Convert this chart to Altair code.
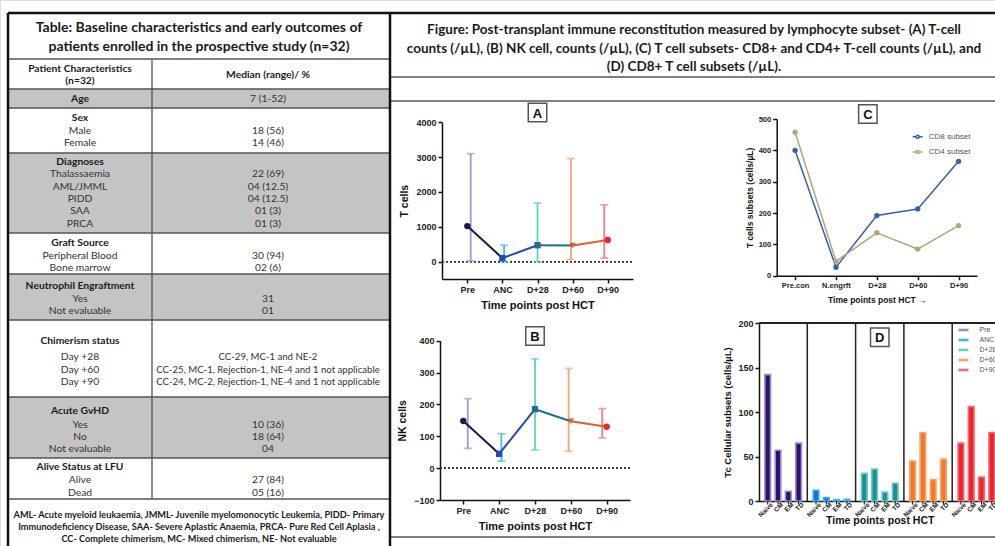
import altair as alt
import pandas as pd

W, H = 995, 546
TF = "Lato"             # table / caption font (Calibri-like)
CF = "Liberation Sans"  # chart font (Arial-like)

# ======================= DATA =======================
tbl_title = ["Table: Baseline characteristics and early outcomes of",
             "patients enrolled in the prospective study (n=32)"]
tbl_col_head_left = ["Patient Characteristics", "(n=32)"]
tbl_col_head_right = "Median (range)/ %"
tbl_heads = ["Age", "Sex", "Diagnoses", "Graft Source", "Neutrophil Engraftment",
             "Chimerism status", "Acute GvHD", "Alive Status at LFU"]
tbl_items = [[], ["Male", "Female"],
             ["Thalassaemia", "AML/JMML", "PIDD", "SAA", "PRCA"],
             ["Peripheral Blood", "Bone marrow"],
             ["Yes", "Not evaluable"],
             ["Day +28", "Day +60", "Day +90"],
             ["Yes", "No", "Not evaluable"],
             ["Alive", "Dead"]]
tbl_values = [["7 (1-52)"], ["18 (56)", "14 (46)"],
              ["22 (69)", "04 (12.5)", "04 (12.5)", "01 (3)", "01 (3)"],
              ["30 (94)", "02 (6)"],
              ["31", "01"],
              ["CC-29, MC-1 and NE-2",
               "CC-25, MC-1, Rejection-1,  NE-4 and 1 not applicable",
               "CC-24, MC-2, Rejection-1,  NE-4 and 1 not applicable"],
              ["10 (36)", "18 (64)", "04"],
              ["27 (84)", "05 (16)"]]
tbl_shaded = [True, False, True, False, True, False, True, False]
tbl_foot = ["AML- Acute myeloid leukaemia, JMML- Juvenile myelomonocytic Leukemia, PIDD- Primary",
            "Immunodeficiency Disease, SAA- Severe Aplastic Anaemia, PRCA- Pure Red Cell Aplasia ,",
            "CC- Complete chimerism, MC- Mixed chimerism, NE- Not evaluable"]
fig_title = ["Figure: Post-transplant immune reconstitution measured by lymphocyte subset- (A) T-cell",
             "counts (/\u00b5L), (B) NK cell, counts (/\u00b5L), (C) T cell subsets- CD8+ and CD4+ T-cell counts (/\u00b5L), and",
             "(D) CD8+ T cell subsets (/\u00b5L)."]

times = ["Pre", "ANC", "D+28", "D+60", "D+90"]
t_cells = [1020, 100, 470, 460, 620]
t_low = [20, 0, 0, 60, 100]
t_high = [3100, 470, 1680, 2960, 1630]
nk_cells = [148, 45, 185, 147, 130]
nk_low = [62, 22, 57, 53, 95]
nk_high = [218, 108, 343, 313, 187]

c_times = ["Pre.con", "N.engrft", "D+28", "D+60", "D+90"]
cd8 = [400, 27, 192, 213, 365]
cd4 = [458, 46, 137, 85, 160]
c_series = ["CD8 subset", "CD4 subset"]

subsets = ["Naive", "CM", "EM", "TD"]
d_pre = [142, 57, 11, 65]
d_anc = [12, 4, 1.5, 2]
d_d28 = [31, 36, 10, 20]
d_d60 = [45, 77, 24, 47]
d_d90 = [65, 106, 27, 77]

# ======================= STYLE =======================
point_colors = ["#1d1650", "#2449b8", "#1f6f8c", "#e0602a", "#e62828"]
whisker_colors = ["#a597d6", "#3fc0e6", "#5fcfcf", "#f7a57a", "#f07a8a"]
point_shapes = ["circle", "square", "square", "triangle-down", "circle"]
c_colors = ["#3560b0", "#b4a57c"]
bar_fills = ["#2a1463", "#1f6fd0", "#1e8e8e", "#f07a2a", "#f02424"]
bar_strokes = ["#9d8ad6", "#36b7ee", "#6ccccc", "#f6a672", "#f46a7a"]
GRAY = "#c4c4c4"

# ======================= LAYOUT (pixels) =======================
TL, TR, TOP = 8, 390, 13
COL_DIV = 152
TCX = 199          # table centre
LCX, VCX = 80, 268  # column centres
FCX = 694          # figure caption centre
TT_Y = [28, 47]
FT_Y = [30, 48.5, 67]
HEAD_TOP, BODY_TOP = 59, 89
HDR_L_Y = [68.5, 81]
HDR_R_Y = 75
row_h = [19, 45, 80, 41, 46, 77, 61, 41]
hdr_off = [10, 10, 9, 10, 12, 21, 14, 9]
item_gap = [0, 12.5, 12.4, 12.7, 12.8, 16.3, 13.8, 13.2]
PITCH = 12.3
FOOT_Y = [515, 527, 538.5]
FIG_LINES = [77, 101, 537]

ident_x = alt.Scale(domain=[0, W], range=[0, W], nice=False, zero=False)
ident_y = alt.Scale(domain=[0, H], range=[0, H], nice=False, zero=False)

# ---------- table ----------
bold_rows, reg_rows = [], []
for k, line in enumerate(tbl_title):
    bold_rows.append(dict(x=TCX, y=TT_Y[k], t=line, fs=14))
for k, line in enumerate(fig_title):
    bold_rows.append(dict(x=FCX, y=FT_Y[k], t=line, fs=13.5))
for k, line in enumerate(tbl_col_head_left):
    bold_rows.append(dict(x=LCX, y=HDR_L_Y[k], t=line, fs=10.3))
bold_rows.append(dict(x=VCX, y=HDR_R_Y, t=tbl_col_head_right, fs=10.3))
for k, line in enumerate(tbl_foot):
    bold_rows.append(dict(x=TCX, y=FOOT_Y[k], t=line, fs=9.2))

rects = []
hlines = [HEAD_TOP, BODY_TOP]
top = BODY_TOP
for i, head in enumerate(tbl_heads):
    hy = top + hdr_off[i]
    bold_rows.append(dict(x=LCX, y=hy, t=head, fs=10.3))
    vfs = 9.6 if max(len(v) for v in tbl_values[i]) > 30 else 10.3
    if not tbl_items[i]:
        reg_rows.append(dict(x=VCX, y=hy, t=tbl_values[i][0], fs=vfs))
    else:
        for k, (it, val) in enumerate(zip(tbl_items[i], tbl_values[i])):
            yy = hy + item_gap[i] + k * PITCH
            reg_rows.append(dict(x=LCX, y=yy, t=it, fs=10.3))
            reg_rows.append(dict(x=VCX, y=yy, t=val, fs=vfs))
    if tbl_shaded[i]:
        rects.append(dict(x=TL, x2=TR, y=top, y2=top + row_h[i]))
    top += row_h[i]
    hlines.append(top)
TABLE_END = top

segs = []
for yy in hlines:
    segs.append(dict(x=TL, x2=TR, y=yy, y2=yy, w=1.3, c="#555555"))
segs.append(dict(x=COL_DIV, x2=COL_DIV, y=HEAD_TOP, y2=TABLE_END, w=1.3, c="#555555"))
for yy in FIG_LINES:
    segs.append(dict(x=TR, x2=W, y=yy, y2=yy, w=1.5, c="#555555"))
segs.append(dict(x=TL, x2=W, y=TOP, y2=TOP, w=2.5, c="#111111"))
segs.append(dict(x=TL, x2=TL, y=TOP, y2=H, w=2.5, c="#111111"))
segs.append(dict(x=TR, x2=TR, y=TOP, y2=H, w=2.5, c="#111111"))

layers = []
layers.append(alt.Chart(pd.DataFrame(rects)).mark_rect(color=GRAY).encode(
    x=alt.X("x:Q", scale=ident_x, axis=None), x2="x2:Q",
    y=alt.Y("y:Q", scale=ident_y, axis=None), y2="y2:Q"))
layers.append(alt.Chart(pd.DataFrame(segs)).mark_rule().encode(
    x=alt.X("x:Q", scale=ident_x, axis=None), x2="x2:Q",
    y=alt.Y("y:Q", scale=ident_y, axis=None), y2="y2:Q",
    strokeWidth=alt.StrokeWidth("w:Q", scale=None),
    color=alt.Color("c:N", scale=None)))
layers.append(alt.Chart(pd.DataFrame(bold_rows)).mark_text(
    font=TF, fontWeight="bold", color="#1a1a1a", baseline="middle", align="center").encode(
    x=alt.X("x:Q", scale=ident_x, axis=None), y=alt.Y("y:Q", scale=ident_y, axis=None),
    text="t:N", size=alt.Size("fs:Q", scale=None)))
layers.append(alt.Chart(pd.DataFrame(reg_rows)).mark_text(
    font=TF, color="#333333", baseline="middle", align="center").encode(
    x=alt.X("x:Q", scale=ident_x, axis=None), y=alt.Y("y:Q", scale=ident_y, axis=None),
    text="t:N", size=alt.Size("fs:Q", scale=None)))

# ======================= AXES =======================
def x_axis(title, ypos, lab=9, tit=11, pad=4, **kw):
    return alt.Axis(orient="bottom", offset=ypos - H, title=title, labelFont=CF,
                    labelFontWeight="bold", labelFontSize=lab, labelColor="#222",
                    labelAngle=0, labelPadding=2, domainColor="#111", domainWidth=1.5,
                    tickColor="#111", tickWidth=1.5, tickSize=4, titleFont=CF,
                    titleFontWeight="bold", titleFontSize=tit, titleColor="#111",
                    titlePadding=pad, grid=False, **kw)

def y_axis(title, xpos, values, lab=9, tit=10, pad=5):
    return alt.Axis(orient="left", offset=-xpos, title=title, values=values, format="d",
                    labelFont=CF, labelFontWeight="bold", labelFontSize=lab,
                    labelColor="#222", labelPadding=2, domainColor="#111", domainWidth=1.5,
                    tickColor="#111", tickWidth=1.5, tickSize=4, titleFont=CF,
                    titleFontWeight="bold", titleFontSize=tit, titleColor="#111",
                    titlePadding=pad, grid=False)

def box_label(letter, xval, xscale, yval, yscale, xoff=0):
    df = pd.DataFrame({"t": [letter]})
    xenc = alt.XDatum(xval, scale=xscale, axis=None)
    yenc = alt.YDatum(yval, scale=yscale, axis=None)
    b = alt.Chart(df).mark_point(shape="square", size=340, filled=True, fill="white",
                                 stroke="#555", strokeWidth=1.5, opacity=1,
                                 xOffset=xoff).encode(x=xenc, y=yenc)
    t = alt.Chart(df).mark_text(font=CF, fontWeight="bold", fontSize=13, color="#111",
                                xOffset=xoff, baseline="middle", dy=1).encode(
        x=xenc, y=yenc, text="t:N")
    return [b, t]

# ======================= PANELS A & B =======================
def line_panel(vals, lows, highs, xr, pad, yd, yr, ticks, ytitle, letter, lab_y):
    df = pd.DataFrame(dict(time=times, val=vals, lo=lows, hi=highs,
                           pc=point_colors, wc=whisker_colors))
    seg = []
    for i in range(len(times) - 1):
        for j in (i, i + 1):
            seg.append(dict(time=times[j], val=vals[j], s=i, c=point_colors[i]))
    seg = pd.DataFrame(seg)
    xs = alt.Scale(domain=times, range=xr, padding=pad)
    ys = alt.Scale(domain=yd, range=yr, nice=False, zero=False)
    xn = alt.X("time:N", scale=xs, sort=times, axis=None)
    out = []
    # axes carrier (invisible points)
    out.append(alt.Chart(df).mark_point(opacity=0).encode(
        x=alt.X("time:N", scale=xs, sort=times,
                axis=x_axis("Time points post HCT", yr[0], lab=9, tit=11, pad=5)),
        y=alt.Y("val:Q", scale=ys, axis=y_axis(ytitle, xr[0], ticks, lab=9, tit=10.5, pad=6))))
    out.append(alt.Chart(df).mark_rule(strokeDash=[2, 2], color="#333", strokeWidth=1.2).encode(
        y=alt.YDatum(0, scale=ys, axis=None), x=alt.value(xr[0]), x2=alt.value(xr[1])))
    out.append(alt.Chart(df).mark_rule(strokeWidth=1.8).encode(
        x=xn, y=alt.Y("lo:Q", scale=ys, axis=None), y2="hi:Q", color=alt.Color("wc:N", scale=None)))
    for f in ("hi", "lo"):
        out.append(alt.Chart(df).mark_tick(orient="horizontal", size=8, thickness=1.8).encode(
            x=xn, y=alt.Y(f + ":Q", scale=ys, axis=None), color=alt.Color("wc:N", scale=None)))
    out.append(alt.Chart(seg).mark_line(strokeWidth=2).encode(
        x=xn, y=alt.Y("val:Q", scale=ys, axis=None), detail="s:N",
        color=alt.Color("c:N", scale=None)))
    out.append(alt.Chart(df).mark_point(filled=True, size=40, opacity=1).encode(
        x=xn, y=alt.Y("val:Q", scale=ys, axis=None), color=alt.Color("pc:N", scale=None),
        shape=alt.Shape("time:N", scale=alt.Scale(domain=times, range=point_shapes), legend=None)))
    out += box_label(letter, "D+28", xs, lab_y, ys)
    return out

layers += line_panel(t_cells, t_low, t_high, [442, 633], 0.72, [-500, 4000], [279, 122.3],
                     [0, 1000, 2000, 3000, 4000], "T cells", "A", 4281)
layers += line_panel(nk_cells, nk_low, nk_high, [440, 630], 0.65, [-100, 400], [500, 340.7],
                     [-100, 0, 100, 200, 300, 400], "NK cells", "B", 415)

# ======================= PANEL C =======================
dfc = pd.DataFrame(dict(time=c_times * 2, val=cd8 + cd4,
                        series=[c_series[0]] * 5 + [c_series[1]] * 5))
xsc = alt.Scale(domain=c_times, range=[776.7, 977], padding=0.45)
ysc = alt.Scale(domain=[0, 500], range=[275.7, 119], nice=False, zero=False)
csc = alt.Scale(domain=c_series, range=c_colors)
LINE_DOT = "M-1,0H-0.32M0.32,0H1M0.3,0A0.3,0.3,0,1,1,-0.3,0A0.3,0.3,0,1,1,0.3,0"
layers.append(alt.Chart(dfc).mark_line(strokeWidth=1.5).encode(
    x=alt.X("time:N", scale=xsc, sort=c_times,
            axis=x_axis("Time points post HCT \u2192", 275.7, lab=7.5, tit=8.5, pad=6)),
    y=alt.Y("val:Q", scale=ysc,
            axis=y_axis("T cells subsets (cells/\u00b5L)", 776.7, [0, 100, 200, 300, 400, 500],
                        lab=7.5, tit=8.5, pad=4)),
    color=alt.Color("series:N", scale=csc, sort=c_series,
                    legend=alt.Legend(orient="none", legendX=911.7, legendY=130.7, title=None,
                                      symbolType=LINE_DOT, symbolSize=100,
                                      symbolStrokeWidth=1.6, labelFont=CF, labelFontSize=8,
                                      labelColor="#555", rowPadding=4.3, padding=0,
                                      labelOffset=5)),
    detail="series:N"))
layers.append(alt.Chart(dfc).mark_point(filled=True, size=28, opacity=1).encode(
    x=alt.X("time:N", scale=xsc, sort=c_times, axis=None),
    y=alt.Y("val:Q", scale=ysc, axis=None),
    color=alt.Color("series:N", scale=csc, legend=None)))
layers += box_label("C", "D+28", xsc, 516, ysc, xoff=-9)

# ======================= PANEL D =======================
rows = []
for g, vals in zip(times, [d_pre, d_anc, d_d28, d_d60, d_d90]):
    for s, v in zip(subsets, vals):
        rows.append(dict(group=g, subset=s, val=v))
dfd = pd.DataFrame(rows)
D_X0, D_Y0 = 759, 501
xsd = alt.Scale(domain=times, range=[D_X0, D_X0 + 5 * 48.3], paddingInner=0, paddingOuter=0)
xod = alt.Scale(domain=subsets, paddingInner=0.45, paddingOuter=0.57)
ysd = alt.Scale(domain=[0, 200], range=[D_Y0, 323], nice=False, zero=False)
xnd = alt.X("group:N", scale=xsd, sort=times, axis=None)
xo = alt.XOffset("subset:N", scale=xod, sort=subsets)
layers.append(alt.Chart(dfd).mark_bar(strokeWidth=1.6).encode(
    x=alt.X("group:N", scale=xsd, sort=times,
            axis=x_axis("Time points post HCT", D_Y0, lab=7, tit=10.5, pad=14,
                        labels=False, ticks=False)),
    xOffset=xo,
    y=alt.Y("val:Q", scale=ysd,
            axis=y_axis("Tc Cellular subsets (cells/\u00b5L)", D_X0, [0, 50, 100, 150, 200],
                        lab=9, tit=9.5, pad=5)),
    fill=alt.Fill("group:N", scale=alt.Scale(domain=times, range=bar_fills), legend=None),
    stroke=alt.Stroke("group:N", scale=alt.Scale(domain=times, range=bar_strokes), legend=None)))
# legend carrier: zero-length rules coloured like the bar outlines
layers.append(alt.Chart(pd.DataFrame({"group": times})).mark_rule(strokeWidth=0).encode(
    x=alt.X("group:N", scale=xsd, sort=times, axis=None),
    y=alt.YDatum(0, scale=ysd, axis=None), y2=alt.Y2Datum(0),
    color=alt.Color("group:N", scale=alt.Scale(domain=times, range=bar_strokes), sort=times,
                    legend=alt.Legend(orient="none", legendX=959.5, legendY=326, title=None,
                                      symbolType="M-2,0H2", symbolSize=25,
                                      symbolStrokeWidth=2.6, labelFont=CF, labelFontSize=7,
                                      labelColor="#555", rowPadding=-3, padding=0,
                                      labelOffset=12))))
layers.append(alt.Chart(dfd).mark_rule(color="#111", strokeWidth=1).encode(
    x=xnd, xOffset=xo, y=alt.YDatum(0, scale=ysd, axis=None), y2=alt.Y2Datum(-4)))
layers.append(alt.Chart(dfd).mark_text(font=CF, fontWeight="bold", fontSize=6.5, angle=315,
                                       align="right", baseline="middle", dy=5, dx=1,
                                       color="#222").encode(
    x=xnd, xOffset=xo, y=alt.YDatum(0, scale=ysd, axis=None), text="subset:N"))
sep = pd.DataFrame({"group": times[1:]})
layers.append(alt.Chart(sep).mark_rule(color="#222", strokeWidth=1.5).encode(
    x=alt.X("group:N", scale=xsd, sort=times, axis=None, bandPosition=0),
    y=alt.YDatum(0, scale=ysd, axis=None), y2=alt.Y2Datum(200)))
layers.append(alt.Chart(sep).mark_rule(color="#222", strokeWidth=1.5).encode(
    y=alt.YDatum(200, scale=ysd, axis=None), x=alt.value(D_X0), x2=alt.value(W)))
layers += box_label("D", "D+28", xsd, 184, ysd)

chart = alt.layer(*layers).resolve_scale(
    x="independent", y="independent", color="independent", fill="independent",
    stroke="independent", shape="independent", size="independent",
    strokeWidth="independent"
).resolve_axis(x="independent", y="independent").resolve_legend(
    color="independent", stroke="independent", fill="independent", shape="independent"
).properties(width=W, height=H, autosize=alt.AutoSizeParams(type="none"), padding=0,
             background="white").configure_view(stroke=None).configure(font=CF)

chart.save("out.html", embed_options={"renderer": "svg", "actions": False})
